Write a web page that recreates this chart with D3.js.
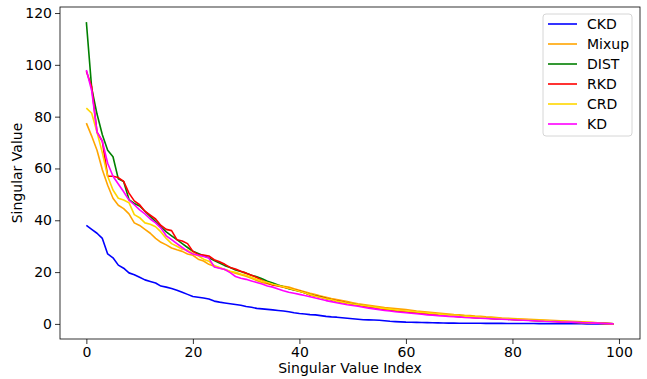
<!DOCTYPE html>
<meta charset="utf-8">
<style>
  body { margin: 0; background: #fff; }
  text { font-family: "DejaVu Sans", sans-serif; }
</style>
<script src="https://d3js.org/d3.v7.min.js"></script>
<div id="chart"></div>
<script>

// Series values (index 0..99)
var ckd = [38, 36.5, 35, 33, 27, 25.5, 22.7, 21.5, 19.7, 19, 18, 17, 16.4, 15.8, 14.6, 14.2, 13.7, 13, 12.2, 11.4,
  10.6, 10.3, 10, 9.6, 8.8, 8.4, 8.1, 7.8, 7.5, 7.2, 6.7, 6.4, 6.0, 5.8, 5.6, 5.4, 5.2, 5.0, 4.7, 4.3,
  4.0, 3.8, 3.6, 3.5, 3.2, 2.9, 2.7, 2.6, 2.4, 2.2, 2.0, 1.8, 1.6, 1.55, 1.5, 1.4, 1.2, 1.0, 0.9, 0.8,
  0.7, 0.65, 0.6, 0.55, 0.5, 0.45, 0.4, 0.35, 0.32, 0.3, 0.28, 0.26, 0.25, 0.24, 0.23, 0.22, 0.21, 0.2, 0.19, 0.18,
  0.17, 0.16, 0.15, 0.14, 0.13, 0.12, 0.11, 0.1, 0.09, 0.08, 0.07, 0.06, 0.05, 0.04, 0.03, 0.03, 0.02, 0.01, 0.01, 0]

var mixup = [77.5, 72.5, 67, 59.5, 53.5, 48.5, 45.8, 44.5, 42.5, 39, 38, 36.5, 35, 33, 31.5, 30.5, 29.3, 28.6, 28, 27,
  26.5, 25, 24.3, 23, 22.3, 21.6, 21, 20.2, 19.6, 19, 18.4, 17.6, 16.8, 16, 15.5, 15.1, 14.8, 14.5, 14.2, 13.6,
  13.0, 12.4, 11.8, 11.3, 10.8, 10.3, 9.8, 9.4, 9.0, 8.6, 8.2, 7.8, 7.5, 7.2, 6.9, 6.6, 6.3, 6.1, 5.9, 5.7,
  5.5, 5.3, 5.0, 4.8, 4.6, 4.4, 4.2, 4.0, 3.8, 3.6, 3.5, 3.3, 3.2, 3.0, 2.9, 2.7, 2.6, 2.5, 2.3, 2.2,
  2.1, 2.0, 1.9, 1.8, 1.7, 1.6, 1.5, 1.4, 1.3, 1.2, 1.1, 1.0, 0.9, 0.8, 0.7, 0.6, 0.45, 0.3, 0.15, 0]

var dist = [116.5, 91, 81, 73, 67, 64.5, 56, 55, 48, 46.5, 45.5, 43.5, 41.5, 39.5, 37.5, 35.5, 34, 32.5, 31, 29.5,
  28, 27.2, 26.3, 25.5, 24.5, 23.5, 22.5, 21.8, 20.8, 20.2, 19.6, 18.8, 18.2, 17.4, 16.5, 15.8, 15.0, 14.3, 13.6, 13.1,
  12.6, 12.0, 11.3, 10.8, 10.4, 9.8, 9.3, 8.8, 8.4, 8.0, 7.7, 7.3, 7.0, 6.6, 6.3, 6.0, 5.7, 5.4, 5.1, 4.9,
  4.7, 4.5, 4.3, 4.1, 3.9, 3.7, 3.5, 3.4, 3.2, 3.0, 2.9, 2.8, 2.6, 2.5, 2.4, 2.3, 2.1, 2.0, 1.9, 1.8,
  1.7, 1.6, 1.5, 1.4, 1.3, 1.2, 1.1, 1.0, 0.95, 0.85, 0.8, 0.7, 0.6, 0.5, 0.45, 0.35, 0.3, 0.2, 0.1, 0]

var rkd = [97.5, 91.5, 74, 70.5, 57, 57, 56.5, 55, 50.5, 47.5, 46, 43.5, 42, 40.5, 38, 36.5, 36, 32.5, 32, 31,
  28, 26.8, 26.6, 26.2, 24.8, 24, 23, 21.8, 21.2, 20.3, 19.6, 18.8, 17.9, 16.8, 15.8, 15.0, 14.6, 14.2, 13.8, 13.2,
  12.7, 12.0, 11.2, 10.8, 10.3, 9.8, 9.3, 8.9, 8.5, 8.0, 7.6, 7.3, 6.9, 6.6, 6.2, 5.9, 5.6, 5.3, 5.0, 4.8,
  4.6, 4.4, 4.2, 4.0, 3.8, 3.6, 3.4, 3.3, 3.1, 3.0, 2.8, 2.7, 2.6, 2.4, 2.3, 2.2, 2.1, 2.0, 1.9, 1.8,
  1.7, 1.6, 1.5, 1.4, 1.3, 1.2, 1.1, 1.0, 0.95, 0.85, 0.8, 0.7, 0.6, 0.55, 0.45, 0.4, 0.3, 0.2, 0.1, 0]

var crd = [83.3, 81.3, 74, 66, 57, 51.7, 48.5, 47.8, 46.8, 42.2, 41, 39, 38.5, 37.5, 35.5, 33, 31, 30, 28.8, 28.5,
  27.2, 26.3, 25, 24.2, 22.5, 21.8, 21, 20.3, 19.9, 19.3, 18.8, 18.0, 17.2, 16.6, 16.0, 15.3, 14.8, 14.3, 13.8, 13.2,
  12.6, 12.0, 11.3, 10.7, 10.2, 9.7, 9.3, 8.8, 8.4, 8.0, 7.7, 7.4, 7.1, 6.8, 6.5, 6.2, 5.9, 5.7, 5.4, 5.2,
  5.0, 4.8, 4.6, 4.4, 4.2, 4.0, 3.8, 3.6, 3.4, 3.3, 3.1, 3.0, 2.8, 2.7, 2.6, 2.4, 2.3, 2.2, 2.1, 2.0,
  1.9, 1.8, 1.7, 1.6, 1.5, 1.4, 1.3, 1.2, 1.1, 1.0, 0.9, 0.8, 0.7, 0.6, 0.5, 0.4, 0.3, 0.2, 0.1, 0]

var kd = [98, 90, 74, 70.5, 62, 57, 54, 51, 47.8, 46, 44, 42.5, 40.5, 39, 37, 34, 32.5, 31, 29.5, 28,
  27, 26.5, 26, 25.4, 22, 21.5, 21, 19.8, 18.3, 17.6, 17.2, 16.6, 16, 15.4, 14.6, 14.2, 13.5, 12.8, 12.2, 11.8,
  11.4, 11.0, 10.5, 10.0, 9.5, 9.0, 8.6, 8.2, 7.8, 7.4, 7.1, 6.8, 6.4, 6.1, 5.8, 5.5, 5.2, 5.0, 4.7, 4.5,
  4.3, 4.1, 3.9, 3.7, 3.5, 3.4, 3.2, 3.1, 2.9, 2.8, 2.7, 2.5, 2.4, 2.3, 2.2, 2.1, 2.0, 1.9, 1.8, 1.7,
  1.6, 1.5, 1.4, 1.3, 1.2, 1.1, 1.0, 0.95, 0.9, 0.8, 0.75, 0.7, 0.6, 0.5, 0.45, 0.4, 0.3, 0.2, 0.1, 0]

var names = ["CKD", "Mixup", "DIST", "RKD", "CRD", "KD"]
var colors = ["blue", "orange", "green", "red", "gold", "magenta"]
var seriesValues = [ckd, mixup, dist, rkd, crd, kd]
var xTicks = [0, 20, 40, 60, 80, 100]
var yTicks = [0, 20, 40, 60, 80, 100, 120]

var W = 647, H = 379
var plot = {left: 60, top: 7, right: 640, bottom: 339}

var svg = d3.select("#chart")
  .append("svg")
    .attr("width", W)
    .attr("height", H)

// matplotlib style 5% margins around the data
var x = d3.scaleLinear()
  .domain([-4.95, 103.95])
  .range([plot.left, plot.right])

var y = d3.scaleLinear()
  .domain([-5.825, 122.325])
  .range([plot.bottom, plot.top])

// X axis
var xAxis = svg.append("g")
  .attr("transform", "translate(0," + plot.bottom + ")")
  .call(d3.axisBottom(x).tickValues(xTicks).tickSize(5).tickPadding(3))
xAxis.select(".domain").remove()
xAxis.selectAll("text").attr("font-size", "14px").attr("fill", "#000")
  .attr("font-family", "DejaVu Sans")
xAxis.selectAll("line").attr("stroke", "#000").attr("stroke-width", 0.8)

// Y axis
var yAxis = svg.append("g")
  .attr("transform", "translate(" + plot.left + ",0)")
  .call(d3.axisLeft(y).tickValues(yTicks).tickSize(5).tickPadding(3))
yAxis.select(".domain").remove()
yAxis.selectAll("text").attr("font-size", "14px").attr("fill", "#000")
  .attr("font-family", "DejaVu Sans")
yAxis.selectAll("line").attr("stroke", "#000").attr("stroke-width", 0.8)

// lines
var line = d3.line()
  .x(function(d, i) { return x(i) })
  .y(function(d) { return y(d) })

svg.append("g")
  .selectAll("path")
  .data(seriesValues)
  .enter()
  .append("path")
    .attr("d", function(d) { return line(d) })
    .attr("fill", "none")
    .attr("stroke", function(d, i) { return colors[i] })
    .attr("stroke-width", 1.6)
    .attr("stroke-linejoin", "round")

// frame
svg.append("rect")
  .attr("x", plot.left)
  .attr("y", plot.top)
  .attr("width", plot.right - plot.left)
  .attr("height", plot.bottom - plot.top)
  .attr("fill", "none")
  .attr("stroke", "#000")
  .attr("stroke-width", 0.8)

// axis titles
svg.append("text")
  .attr("x", (plot.left + plot.right) / 2)
  .attr("y", 373)
  .attr("text-anchor", "middle")
  .attr("font-size", "14px")
  .text("Singular Value Index")

svg.append("text")
  .attr("transform", "translate(22," + ((plot.top + plot.bottom) / 2) + ") rotate(-90)")
  .attr("text-anchor", "middle")
  .attr("font-size", "14px")
  .text("Singular Value")

// legend
var legend = svg.append("g").attr("transform", "translate(543,14)")
legend.append("rect")
  .attr("width", 89)
  .attr("height", 122)
  .attr("rx", 3)
  .attr("fill", "#fff")
  .attr("fill-opacity", 0.8)
  .attr("stroke", "#ccc")
  .attr("stroke-width", 0.8)

var rows = legend.selectAll(".row")
  .data(names)
  .enter()
  .append("g")
    .attr("class", "row")
    .attr("transform", function(d, i) { return "translate(0," + (10 + i * 20) + ")" })

rows.append("line")
  .attr("x1", 5).attr("x2", 34)
  .attr("y1", 0).attr("y2", 0)
  .attr("stroke", function(d, i) { return colors[i] })
  .attr("stroke-width", 1.6)

rows.append("text")
  .attr("x", 44)
  .attr("y", 5)
  .attr("font-size", "14px")
  .text(function(d) { return d })

</script>
